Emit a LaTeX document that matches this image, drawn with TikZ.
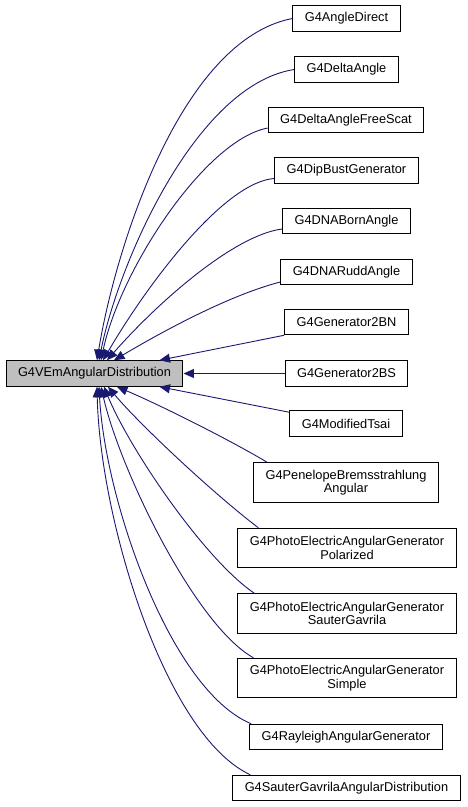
\documentclass[tikz,border=0pt]{standalone}
\usepackage{fontspec}
\setmainfont{Liberation Sans}
\usetikzlibrary{arrows.meta}
\usetikzlibrary{calc}
\definecolor{edgeblue}{RGB}{25,25,112}
\definecolor{basegray}{RGB}{191,191,191}

\begin{document}
\begin{tikzpicture}[	x=1pt, y=-1pt, >={Triangle[length=10.5pt,width=9pt]},
				cls/.style={draw=black,fill=white,line width=1pt,inner xsep=12pt,inner ysep=2pt,
					minimum height=25.5pt,align=center,font=\fontsize{12.8}{13.6}\selectfont},
				twoline/.style={minimum height=39.5pt},
				inherit/.style={->,color=edgeblue,line width=0.9pt}]

	\useasboundingbox (0,0) rectangle (467,807);

	% Base class
	\node[cls,fill=basegray] (base) at (94.5,373.5) {G4VEmAngularDistribution};

	% Derived classes
	\node[cls] (adirect)  at (346.5,18.5)  {G4AngleDirect};
	\node[cls] (dangle)   at (346.5,69.5)  {G4DeltaAngle};
	\node[cls] (dfree)    at (346,120)     {G4DeltaAngleFreeScat};
	\node[cls] (dipbust)  at (346.5,170.5) {G4DipBustGenerator};
	\node[cls] (dnaborn)  at (346.5,221)   {G4DNABornAngle};
	\node[cls] (dnarudd)  at (346.5,272)   {G4DNARuddAngle};
	\node[cls] (genbn)    at (346.5,322)   {G4Generator2BN};
	\node[cls] (genbs)    at (346.5,373.5) {G4Generator2BS};
	\node[cls] (mtsai)    at (346,423.5)   {G4ModifiedTsai};
	\node[cls,twoline] (penelope)  at (346,482.5) {G4PenelopeBremsstrahlung\\Angular};
	\node[cls,twoline] (peapol)    at (347,548)   {G4PhotoElectricAngularGenerator\\Polarized};
	\node[cls,twoline] (peasg)     at (347,613.5) {G4PhotoElectricAngularGenerator\\SauterGavrila};
	\node[cls,twoline] (peasimple) at (347,678)   {G4PhotoElectricAngularGenerator\\Simple};
	\node[cls] (rayleigh) at (346,737)     {G4RayleighAngularGenerator};
	\node[cls] (sgad)     at (346.5,788)   {G4SauterGavrilaAngularDistribution};

	% Upper edges
	\draw[inherit] (adirect.west) .. controls (180,40) and (115,250) .. ($(base.north)+(2.5,0)$);
	\draw[inherit] (dangle.west) .. controls (195,85) and (118,265) .. ($(base.north)+(4.5,0)$);
	\draw[inherit] ($(dfree.west)+(0,8)$) .. controls (205,140) and (120,270) .. ($(base.north)+(6.5,0)$);
	\draw[inherit] ($(dipbust.west)+(0,8)$) .. controls (225,182) and (150,280) .. ($(base.north)+(8.5,0)$);
	\draw[inherit] ($(dnaborn.west)+(0,8)$) .. controls (235,235) and (160,300) .. ($(base.north)+(12.5,0)$);
	\draw[inherit] ($(dnarudd.west)+(0,10)$) .. controls (230,295) and (165,330) .. ($(base.north)+(19.5,0)$);

	% Straight edges
	\draw[inherit] (genbn.south west) -- ($(base.north east)+(-24,0)$);
	\draw[inherit] (genbs.west) -- (base.east);
	\draw[inherit] ($(mtsai.north west)+(0,2)$) -- ($(base.south east)+(-24,0)$);

	% Lower edges
	\draw[inherit] ($(penelope.north west)+(14,0)$) .. controls (230,440) and (160,405) .. ($(base.south)+(22.5,0)$);
	\draw[inherit] ($(peapol.north west)+(21,0)$) .. controls (215,495) and (140,425) .. ($(base.south)+(13.5,0)$);
	\draw[inherit] ($(peasg.north west)+(17,0)$) .. controls (205,560) and (130,450) .. ($(base.south)+(9.5,0)$);
	\draw[inherit] ($(peasimple.north west)+(16,0)$) .. controls (195,625) and (120,470) .. ($(base.south)+(6.5,0)$);
	\draw[inherit] ($(rayleigh.north west)+(2,0)$) .. controls (170,690) and (105,500) .. ($(base.south)+(4.5,0)$);
	\draw[inherit] ($(sgad.north west)+(18,0)$) .. controls (165,735) and (100,520) .. ($(base.south)+(2.5,0)$);

\end{tikzpicture}
\end{document}
